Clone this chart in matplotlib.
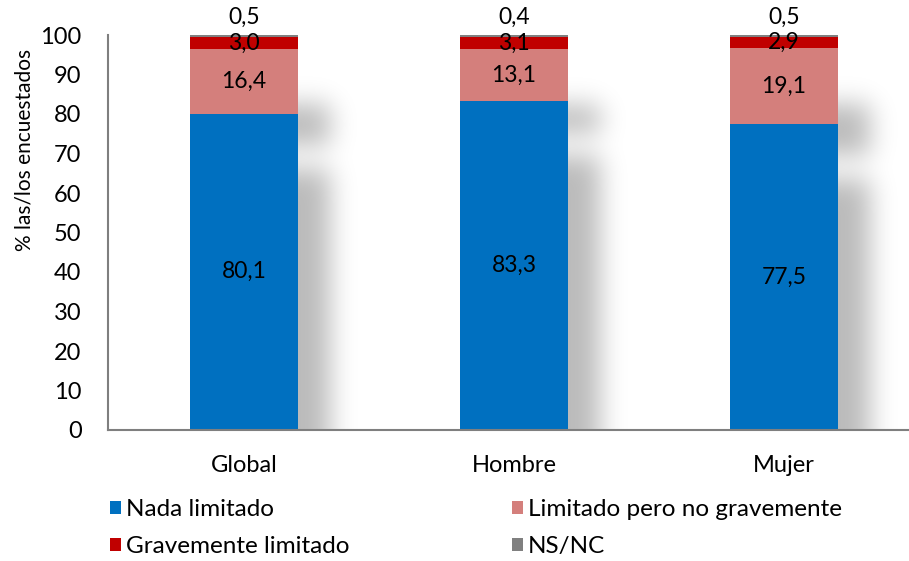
import numpy as np
import matplotlib
matplotlib.use("Agg")
import matplotlib.pyplot as plt

plt.rcParams['font.family'] = ['Lato', 'DejaVu Sans']

categories = ["Global", "Hombre", "Mujer"]
series_names = ["Nada limitado", "Limitado pero no gravemente",
                "Gravemente limitado", "NS/NC"]
nada = [80.1, 83.3, 77.5]
limitado = [16.4, 13.1, 19.1]
grave = [3.0, 3.1, 2.9]
nsnc = [0.5, 0.4, 0.5]
colors = ["#0070C0", "#D47F7C", "#C00000", "#808080"]

series = [nada, limitado, grave, nsnc]

fig = plt.figure(figsize=(9.09, 5.61), dpi=100)
ax = fig.add_axes([108 / 909, 1 - 430 / 561, 801 / 909, 395 / 561])

xmin, xmax = -0.504, 2.463
ymin, ymax = 0, 100
bar_w = 0.4
x = np.arange(len(categories))

# soft drop shadow behind each segment (blurred offset rectangles)
pad = 80
W, H = 801, 395
px_x = W / (xmax - xmin)
px_y = H / (ymax - ymin)
grid = np.zeros((H + 2 * pad, W + 2 * pad))
cols = xmin + (np.arange(W + 2 * pad) - pad + 0.5) / px_x
rows = ymax - (np.arange(H + 2 * pad) - pad + 0.5) / px_y
bottoms = np.zeros(len(categories))
for vals in series[:2]:
    for i, v in enumerate(vals):
        b, t = bottoms[i], bottoms[i] + v
        top_s = t - 14
        bot_s = b - 8 if b > 0 else -60
        if top_s <= bot_s:
            continue
        x0 = x[i] - bar_w / 2 + 32 / px_x
        x1 = x[i] + bar_w / 2 + 32 / px_x
        mx = (cols >= x0) & (cols <= x1)
        my = (rows >= bot_s) & (rows <= top_s)
        grid[np.ix_(my, mx)] = 1.0
    bottoms += np.array(vals)

sigma = 13
k = np.arange(-3 * sigma, 3 * sigma + 1)
kern = np.exp(-k ** 2 / (2 * sigma ** 2))
kern /= kern.sum()
grid = np.apply_along_axis(lambda r: np.convolve(r, kern, mode='same'), 1, grid)
grid = np.apply_along_axis(lambda c: np.convolve(c, kern, mode='same'), 0, grid)
grid = grid[pad:pad + H, pad:pad + W]
img = np.zeros((H, W, 4))
img[..., 3] = 0.27 * grid
ax.imshow(img, extent=(xmin, xmax, ymin, ymax), aspect='auto', zorder=0,
          interpolation='bilinear')

bottoms = np.zeros(len(categories))
handles = []
for vals, name, c in zip(series, series_names, colors):
    h = ax.bar(x, vals, bar_w, bottom=bottoms, color=c, label=name, zorder=2)
    handles.append(h)
    for i, v in enumerate(vals):
        txt = f"{v:.1f}".replace('.', ',')
        if name == "NS/NC":
            y = bottoms[i] + v + 4.5
        else:
            y = bottoms[i] + v / 2
        ax.text(x[i], y, txt, ha='center', va='center', fontsize=16.5,
                color='black', zorder=3)
    bottoms += np.array(vals)

ax.set_xlim(xmin, xmax)
ax.set_ylim(ymin, ymax)
ax.set_yticks(np.arange(0, 101, 10))
ax.set_xticks(x)
ax.set_xticklabels(categories)
ax.tick_params(axis='both', length=0, labelsize=17)
ax.tick_params(axis='y', pad=19)
ax.tick_params(axis='x', pad=18)
for s in ['top', 'right']:
    ax.spines[s].set_visible(False)
for s in ['left', 'bottom']:
    ax.spines[s].set_color('#7f7f7f')
    ax.spines[s].set_linewidth(1.5)

fig.text(25 / 909, 1 - 150 / 561, "% las/los encuestados", rotation=90,
         ha='center', va='center', fontsize=15)

# legend is laid out row by row in the reference
order = [0, 2, 1, 3]
fig.legend(handles=[handles[i] for i in order],
           labels=[series_names[i] for i in order], ncol=2, loc='upper left',
           bbox_to_anchor=(110 / 909, 1 - 499 / 561), frameon=False,
           fontsize=17.5, handlelength=0.45, handleheight=0.45,
           handletextpad=0.2, columnspacing=6.7, labelspacing=0.66,
           borderpad=0, borderaxespad=0)

fig.savefig("out.png", dpi=100)
